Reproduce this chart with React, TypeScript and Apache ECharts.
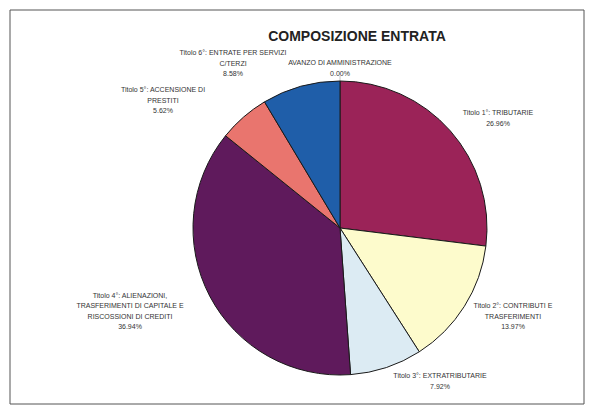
import React, { useEffect, useRef } from "react";
import * as echarts from "echarts";

const categories = [
  "AVANZO DI AMMINISTRAZIONE",
  "Titolo 1°: TRIBUTARIE",
  "Titolo 2°: CONTRIBUTI E\nTRASFERIMENTI",
  "Titolo 3°: EXTRATRIBUTARIE",
  "Titolo 4°: ALIENAZIONI,\nTRASFERIMENTI DI CAPITALE E\nRISCOSSIONI DI CREDITI",
  "Titolo 5°: ACCENSIONE DI\nPRESTITI",
  "Titolo 6°: ENTRATE PER SERVIZI\nC/TERZI",
];
const values = [0.0, 26.96, 13.97, 7.92, 36.94, 5.62, 8.58];
const colors = ["#7f7fd0", "#9b2358", "#fdfbcc", "#dcebf3", "#5f1a5c", "#e9756e", "#1f5ea9"];
const title = "COMPOSIZIONE ENTRATA";

// label anchor positions (layout only)
const labelPos: [number, number][] = [
  [340, 68],
  [498, 118],
  [513, 316],
  [440, 381],
  [130, 311],
  [163, 100],
  [233, 63],
];

export default function App() {
  const ref = useRef<HTMLDivElement>(null);
  useEffect(() => {
    document.body.style.margin = "0";
    const chart = echarts.init(ref.current!, null, { renderer: "svg" });
    chart.setOption({
      animation: false,
      backgroundColor: "#ffffff",
      title: {
        text: title,
        left: 352,
        top: 24,
        textAlign: "center",
        textStyle: { fontFamily: "Liberation Sans", fontSize: 14, fontWeight: "bold", color: "#222" },
      },
      graphic: [
        {
          type: "rect",
          shape: { x: 10, y: 10, width: 574, height: 394 },
          style: { fill: "none", stroke: "#555", lineWidth: 1 },
          silent: true,
        },
        {
          type: "line",
          shape: { x1: 340, y1: 76, x2: 340, y2: 83 },
          style: { stroke: "#aaa", lineWidth: 0.7 },
          silent: true,
        },
      ],
      series: [
        {
          type: "pie",
          center: [340, 228],
          radius: 147,
          startAngle: 90,
          clockwise: true,
          avoidLabelOverlap: false,
          itemStyle: { borderColor: "#1a1a1a", borderWidth: 1 },
          label: {
            show: true,
            formatter: (p: any) => `${p.name}\n${p.value.toFixed(2)}%`,
            fontFamily: "Liberation Sans",
            fontSize: 7,
            lineHeight: 10.5,
            color: "#333",
            align: "center",
          },
          labelLine: { show: false },
          labelLayout: (p: any) => {
            const pos = labelPos[p.dataIndex];
            return { x: pos[0], y: pos[1], align: "center", verticalAlign: "middle" };
          },
          data: categories.map((c, i) => ({
            name: c,
            value: values[i],
            itemStyle: { color: colors[i] },
          })),
        },
      ],
    });
    return () => chart.dispose();
  }, []);
  return <div ref={ref} style={{ width: 594, height: 414 }} />;
}
